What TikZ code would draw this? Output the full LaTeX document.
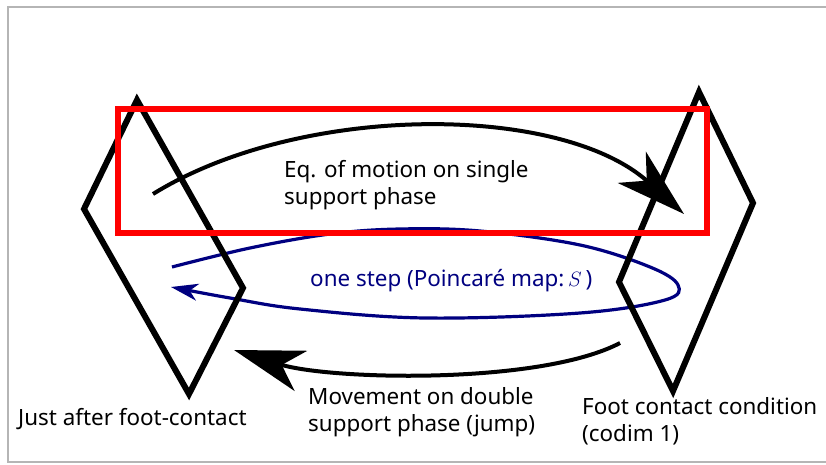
\documentclass[tikz,border=0pt]{standalone}
\usepackage{fontspec}
\setmainfont{Noto Sans}
\usetikzlibrary{arrows.meta}
\definecolor{framegray}{RGB}{181,181,181}
\definecolor{navyblue}{RGB}{0,0,128}
\definecolor{pureRed}{RGB}{255,0,0}
\begin{document}
\begin{tikzpicture}[x=1pt,y=-1pt,
  lbl/.style={inner sep=0pt,anchor=base west,align=left,font=\fontsize{22.4}{27}\selectfont},
  diam/.style={line width=6pt,line join=miter,black},
  bigarrow/.style={line width=4pt,black,-{Stealth[length=70pt,width=42pt,inset=20pt]}},
  loop/.style={line width=3.2pt,navyblue,-{Stealth[length=27pt,width=17pt,inset=8pt]}},
  redbox/.style={line width=6pt,pureRed},
  framestyle/.style={line width=2.2pt,framegray}]
\useasboundingbox (0,0) rectangle (826,465);
% frame (open on the right)
\coordinate (f1) at (826,7);
\coordinate (f2) at (8,7);
\coordinate (f3) at (8,462);
\coordinate (f4) at (826,462);
\draw[framestyle] (f1) -- (f2) -- (f3) -- (f4);
% blue loop
\draw[loop] plot[smooth,tension=0.6] coordinates {(172,267) (250,248) (330,234) (400,229) (480,231) (580,245) (650,267) (678,285) (665,300) (580,313) (425,318) (300,309) (230,298) (171,287)};
% diamonds
\coordinate (Lt) at (137,100);
\coordinate (Lr) at (243,288);
\coordinate (Lb) at (189,394);
\coordinate (Ll) at (84,209);
\coordinate (Rt) at (699,92);
\coordinate (Rr) at (753,203);
\coordinate (Rb) at (673,391);
\coordinate (Rl) at (619,282);
\draw[diam] (Lt) -- (Lr) -- (Lb) -- (Ll) -- cycle;
\draw[diam] (Rt) -- (Rr) -- (Rb) -- (Rl) -- cycle;
% black arrows
\coordinate (a1s) at (153,194);
\coordinate (a1e) at (684,214);
\draw[bigarrow] (a1s) .. controls (300,103) and (560,103) .. (a1e);
\coordinate (a2s) at (620,343);
\coordinate (a2e) at (234,350);
\draw[bigarrow] (a2s) .. controls (540,385) and (330,380) .. (a2e);
% red rectangle
\coordinate (r1) at (118,109);
\coordinate (r2) at (707,233);
\draw[redbox] (r1) rectangle (r2);
% labels (base = baseline of the last line)
\node[lbl] (eq) at (284,204) {Eq. of motion on single\\support phase};
\node[lbl,text=navyblue] (one) at (310,286) {one step (Poincaré map:\,$S$\,)};
\node[lbl] (just) at (18,425) {Just after foot-contact};
\node[lbl] (mov) at (308,431) {Movement on double\\support phase (jump)};
\node[lbl] (foot) at (582,441) {Foot contact condition\\(codim 1)};
\end{tikzpicture}
\end{document}
